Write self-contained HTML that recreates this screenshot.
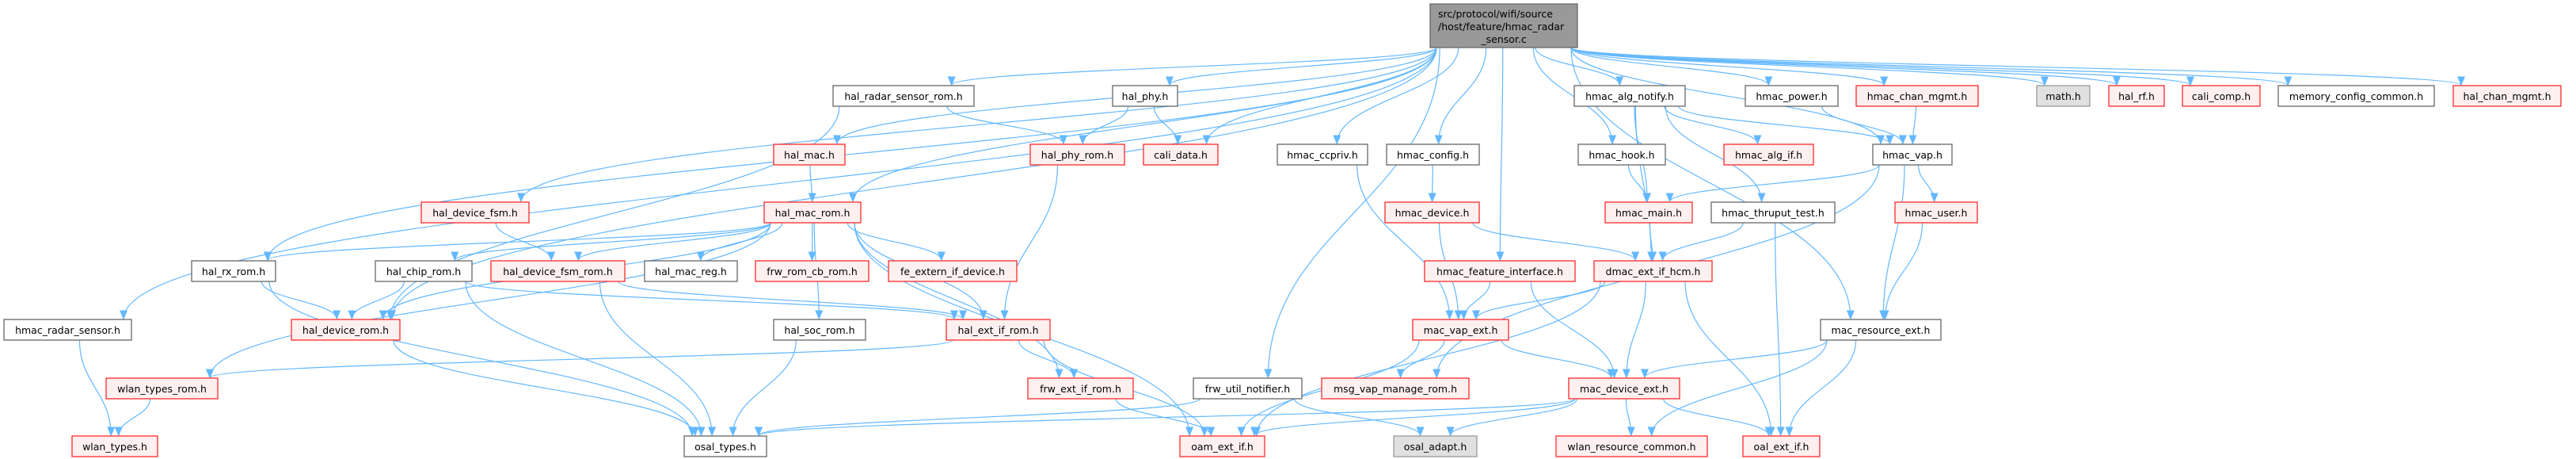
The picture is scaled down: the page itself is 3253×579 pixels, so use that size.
<!DOCTYPE html>
<html><head><meta charset="utf-8"><style>
html,body{margin:0;padding:0;background:#fff;}
svg{display:block;}
text{font-family:"DejaVu Sans","Liberation Sans",sans-serif;font-size:12.5px;fill:#000;}
.n{fill:#fff;stroke:#666;stroke-width:1.3;}
.r{fill:#fff0f0;stroke:#ff2a2a;stroke-width:1.3;}
.g{fill:#e0e0e0;stroke:#999;stroke-width:1.3;}
.e{fill:none;stroke:#63b8ff;stroke-width:1.2;}
</style></head><body>
<svg id="s" width="3253" height="579" viewBox="0 0 3253 579" xmlns="http://www.w3.org/2000/svg">
<defs><marker id="a" markerWidth="12" markerHeight="10" refX="11" refY="5" orient="auto" markerUnits="userSpaceOnUse"><path d="M0,0 L12,5 L0,10 z" fill="#63b8ff"/></marker></defs>
<g id="edges"></g>
<g id="nodes">
<rect x="1806" y="5" width="186" height="55" fill="#999" stroke="#666" stroke-width="1.3"/>
<text x="1816" y="22">src/protocol/wifi/source</text>
<text x="1816" y="38">/host/feature/hmac_radar</text>
<text x="1899" y="54" text-anchor="middle">_sensor.c</text>
<rect class="n" x="5" y="403" width="161" height="26"/><text x="85.5" y="421" text-anchor="middle">hmac_radar_sensor.h</text>
<rect class="r" x="134" y="477" width="141" height="26"/><text x="204.5" y="495" text-anchor="middle">wlan_types_rom.h</text>
<rect class="r" x="91" y="550" width="108" height="26"/><text x="145" y="568" text-anchor="middle">wlan_types.h</text>
<rect class="n" x="242" y="329" width="106" height="26"/><text x="295" y="347" text-anchor="middle">hal_rx_rom.h</text>
<rect class="r" x="368" y="403" width="137" height="26"/><text x="436.5" y="421" text-anchor="middle">hal_device_rom.h</text>
<rect class="n" x="474" y="329" width="122" height="26"/><text x="535" y="347" text-anchor="middle">hal_chip_rom.h</text>
<rect class="r" x="620" y="329" width="169" height="26"/><text x="704.5" y="347" text-anchor="middle">hal_device_fsm_rom.h</text>
<rect class="r" x="532" y="255" width="136" height="26"/><text x="600" y="273" text-anchor="middle">hal_device_fsm.h</text>
<rect class="n" x="1052" y="108" width="178" height="26"/><text x="1141" y="126" text-anchor="middle">hal_radar_sensor_rom.h</text>
<rect class="n" x="1405" y="108" width="82" height="26"/><text x="1446" y="126" text-anchor="middle">hal_phy.h</text>
<rect class="r" x="977" y="182" width="90" height="26"/><text x="1022" y="200" text-anchor="middle">hal_mac.h</text>
<rect class="r" x="1301" y="182" width="119" height="26"/><text x="1360.5" y="200" text-anchor="middle">hal_phy_rom.h</text>
<rect class="r" x="1444" y="182" width="94" height="26"/><text x="1491" y="200" text-anchor="middle">cali_data.h</text>
<rect class="r" x="965" y="255" width="122" height="26"/><text x="1026" y="273" text-anchor="middle">hal_mac_rom.h</text>
<rect class="n" x="814" y="329" width="117" height="26"/><text x="872.5" y="347" text-anchor="middle">hal_mac_reg.h</text>
<rect class="r" x="954" y="329" width="143" height="26"/><text x="1025.5" y="347" text-anchor="middle">frw_rom_cb_rom.h</text>
<rect class="r" x="1122" y="329" width="162" height="26"/><text x="1203" y="347" text-anchor="middle">fe_extern_if_device.h</text>
<rect class="n" x="977" y="403" width="116" height="26"/><text x="1035" y="421" text-anchor="middle">hal_soc_rom.h</text>
<rect class="r" x="1195" y="403" width="131" height="26"/><text x="1260.5" y="421" text-anchor="middle">hal_ext_if_rom.h</text>
<rect class="r" x="1298" y="477" width="133" height="26"/><text x="1364.5" y="495" text-anchor="middle">frw_ext_if_rom.h</text>
<rect class="n" x="1507" y="477" width="137" height="26"/><text x="1575.5" y="495" text-anchor="middle">frw_util_notifier.h</text>
<rect class="n" x="864" y="550" width="104" height="26"/><text x="916" y="568" text-anchor="middle">osal_types.h</text>
<rect class="r" x="1490" y="550" width="107" height="26"/><text x="1543.5" y="568" text-anchor="middle">oam_ext_if.h</text>
<rect class="n" x="1988" y="108" width="140" height="26"/><text x="2058" y="126" text-anchor="middle">hmac_alg_notify.h</text>
<rect class="n" x="2204" y="108" width="117" height="26"/><text x="2262.5" y="126" text-anchor="middle">hmac_power.h</text>
<rect class="r" x="2344" y="108" width="154" height="26"/><text x="2421" y="126" text-anchor="middle">hmac_chan_mgmt.h</text>
<rect class="n" x="1613" y="182" width="114" height="26"/><text x="1670" y="200" text-anchor="middle">hmac_ccpriv.h</text>
<rect class="n" x="1751" y="182" width="117" height="26"/><text x="1809.5" y="200" text-anchor="middle">hmac_config.h</text>
<rect class="n" x="1993" y="182" width="110" height="26"/><text x="2048" y="200" text-anchor="middle">hmac_hook.h</text>
<rect class="r" x="2177" y="182" width="113" height="26"/><text x="2233.5" y="200" text-anchor="middle">hmac_alg_if.h</text>
<rect class="n" x="2365" y="182" width="100" height="26"/><text x="2415" y="200" text-anchor="middle">hmac_vap.h</text>
<rect class="r" x="1749" y="255" width="119" height="26"/><text x="1808.5" y="273" text-anchor="middle">hmac_device.h</text>
<rect class="r" x="2027" y="255" width="110" height="26"/><text x="2082" y="273" text-anchor="middle">hmac_main.h</text>
<rect class="n" x="2161" y="255" width="156" height="26"/><text x="2239" y="273" text-anchor="middle">hmac_thruput_test.h</text>
<rect class="r" x="2393" y="255" width="104" height="26"/><text x="2445" y="273" text-anchor="middle">hmac_user.h</text>
<rect class="r" x="1799" y="329" width="190" height="26"/><text x="1894" y="347" text-anchor="middle">hmac_feature_interface.h</text>
<rect class="r" x="2013" y="329" width="149" height="26"/><text x="2087.5" y="347" text-anchor="middle">dmac_ext_if_hcm.h</text>
<rect class="r" x="1784" y="403" width="121" height="26"/><text x="1844.5" y="421" text-anchor="middle">mac_vap_ext.h</text>
<rect class="n" x="2299" y="403" width="152" height="26"/><text x="2375" y="421" text-anchor="middle">mac_resource_ext.h</text>
<rect class="r" x="1669" y="477" width="186" height="26"/><text x="1762" y="495" text-anchor="middle">msg_vap_manage_rom.h</text>
<rect class="r" x="1981" y="477" width="140" height="26"/><text x="2051" y="495" text-anchor="middle">mac_device_ext.h</text>
<rect class="g" x="1760" y="550" width="105" height="26"/><text x="1812.5" y="568" text-anchor="middle">osal_adapt.h</text>
<rect class="r" x="1965" y="550" width="191" height="26"/><text x="2060.5" y="568" text-anchor="middle">wlan_resource_common.h</text>
<rect class="r" x="2201" y="550" width="97" height="26"/><text x="2249.5" y="568" text-anchor="middle">oal_ext_if.h</text>
<rect class="g" x="2572" y="108" width="67" height="26"/><text x="2605.5" y="126" text-anchor="middle">math.h</text>
<rect class="r" x="2663" y="108" width="70" height="26"/><text x="2698" y="126" text-anchor="middle">hal_rf.h</text>
<rect class="r" x="2756" y="108" width="98" height="26"/><text x="2805" y="126" text-anchor="middle">cali_comp.h</text>
<rect class="n" x="2877" y="108" width="197" height="26"/><text x="2975.5" y="126" text-anchor="middle">memory_config_common.h</text>
<rect class="r" x="3098" y="108" width="136" height="26"/><text x="3166" y="126" text-anchor="middle">hal_chan_mgmt.h</text>
</g>
</svg>
<script>
var R={2:108,3:182,4:255,5:329,6:403,7:477,8:550};
var N={
hrs:[5,166,6],wtr:[134,275,7],wt:[91,199,8],hrx:[242,348,5],hdr:[368,505,6],hcr:[474,596,5],hdfr:[620,789,5],hdf:[532,668,4],
hrsr:[1052,1230,2],hphy:[1405,1487,2],hmac:[977,1067,3],hpr:[1301,1420,3],cd:[1444,1538,3],hmr:[965,1087,4],hmreg:[814,931,5],
frcb:[954,1097,5],fe:[1122,1284,5],hsoc:[977,1093,6],heir:[1195,1326,6],feir:[1298,1431,7],fun:[1507,1644,7],osal:[864,968,8],
oam:[1490,1597,8],han:[1988,2128,2],hpow:[2204,2321,2],hcm:[2344,2498,2],hcc:[1613,1727,3],hcfg:[1751,1868,3],hhook:[1993,2103,3],
haif:[2177,2290,3],hvap:[2365,2465,3],hdev:[1749,1868,4],hmain:[2027,2137,4],htt:[2161,2317,4],huser:[2393,2497,4],hfi:[1799,1989,5],
deih:[2013,2162,5],mve:[1784,1905,6],mre:[2299,2451,6],mvm:[1669,1855,7],mde:[1981,2121,7],oad:[1760,1865,8],wrc:[1965,2156,8],
oal:[2201,2298,8],math:[2572,2639,2],hrf:[2663,2733,2],cc:[2756,2854,2],mcc:[2877,3074,2],hchm:[3098,3234,2]
};
var E="root>hrs,hrx,hdr,hdf,hmr,hmac,hrsr,hphy,cd,fun,hcc,hcfg,hfi,hhook,han,hpow,hcm,math,hrf,cc,mcc,hchm,hvap,mre;hrs>wt;wtr>wt;hrx>hdr,osal;hcr>hdr,osal,heir;hdf>hdfr;hdfr>osal,heir;hdr>osal;hrsr>hdr,hpr;hphy>hpr,cd;hmac>hmr;hpr>heir;hmr>hmreg,frcb,fe,hsoc,heir,feir,oam,hcr,hdfr,hdr,hrx,wtr;heir>feir,oam,wtr;hsoc>osal;feir>oam;fun>osal,oad;hcc>mve;hcfg>hdev;hdev>mve,deih;hfi>mve,mde;han>deih,hmain,haif,hvap,htt;hhook>hmain;hmain>deih;htt>deih,oal;hpow>hvap;hcm>hvap;hvap>mvm,hmain,huser,mre;huser>mre;deih>mve,mde,oal,oam;mve>mvm,mde,oam;mre>mde,wrc,oal;mde>osal,oam,oad,wrc,oal";
function box(k){if(k=='root')return{x1:1806,x2:1992,y1:5,y2:60};var n=N[k];var y=R[n[2]];return{x1:n[0],x2:n[1],y1:y,y2:y+26};}
var ns="http://www.w3.org/2000/svg",eg=document.getElementById('edges');
E.split(';').forEach(function(g){var p=g.split('>'),s=box(p[0]);p[1].split(',').forEach(function(t){var b=box(t);
var tc=(b.x1+b.x2)/2,sc=(s.x1+s.x2)/2;
var sx=sc+(tc-sc)*0.25;sx=Math.max(s.x1+8,Math.min(s.x2-8,sx));
var tx=tc+(sc-tc)*0.08;tx=Math.max(b.x1+10,Math.min(b.x2-10,tx));
var sy=s.y2,ty=b.y1,dy=ty-sy;
var d="M"+sx+","+sy+" C"+sx+","+(sy+dy*0.45)+" "+tx+","+(ty-dy*0.45)+" "+tx+","+(ty-0.5);
var pa=document.createElementNS(ns,'path');pa.setAttribute('d',d);pa.setAttribute('class','e');pa.setAttribute('marker-end','url(#a)');eg.appendChild(pa);});});
</script>
</body></html>
